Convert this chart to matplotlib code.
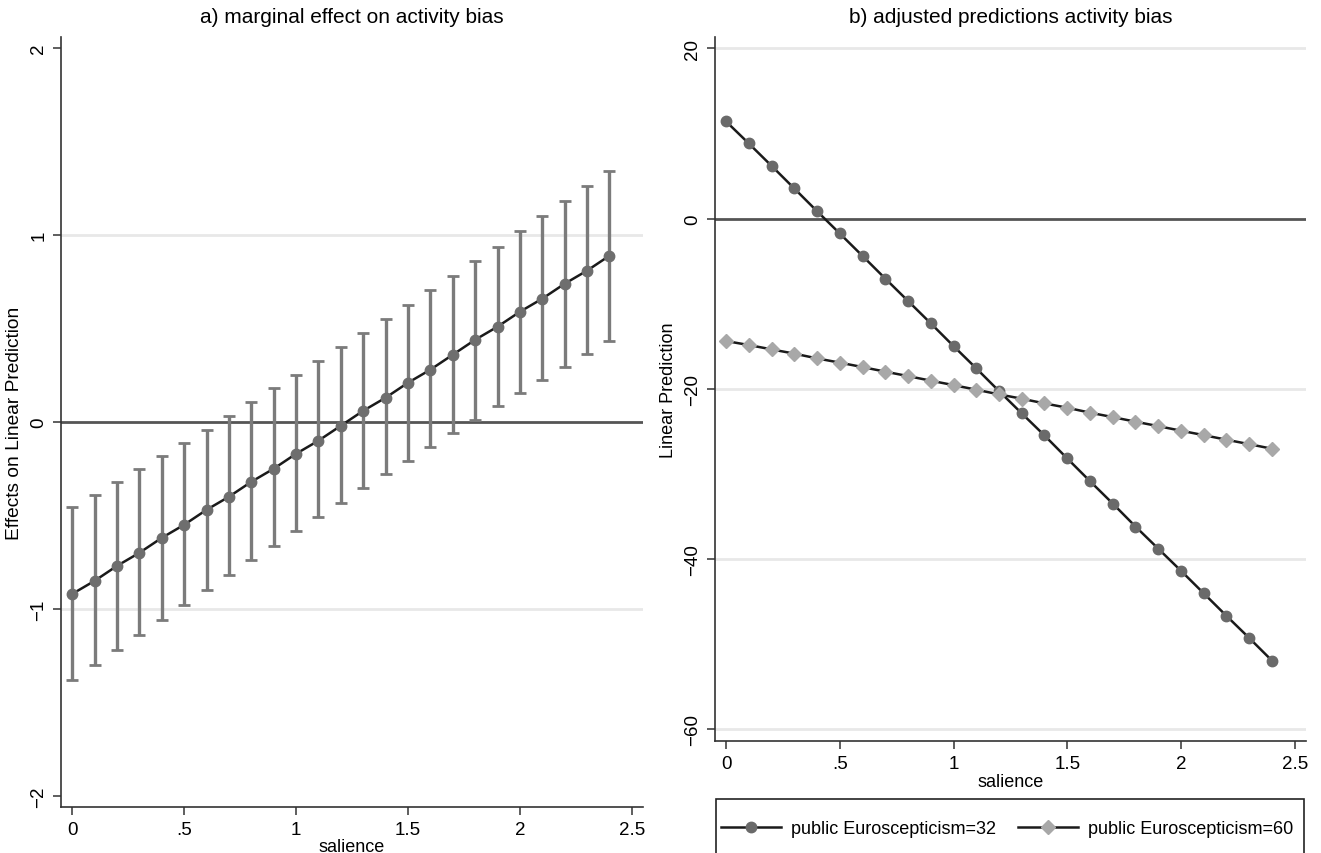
import matplotlib.pyplot as plt
from matplotlib.patches import Rectangle

plt.rcParams['font.family'] = ['Liberation Sans', 'DejaVu Sans']

# salience values (same for both panels)
salience = [0.0, 0.1, 0.2, 0.3, 0.4, 0.5, 0.6, 0.7, 0.8, 0.9, 1.0, 1.1, 1.2,
            1.3, 1.4, 1.5, 1.6, 1.7, 1.8, 1.9, 2.0, 2.1, 2.2, 2.3, 2.4]

# a) marginal effect with confidence interval
effect = [-0.92, -0.85, -0.77, -0.70, -0.62, -0.55, -0.47, -0.40, -0.32, -0.25,
          -0.17, -0.10, -0.02, 0.06, 0.13, 0.21, 0.28, 0.36, 0.44, 0.51,
          0.59, 0.66, 0.74, 0.81, 0.89]
ci_low = [-1.383, -1.303, -1.218, -1.139, -1.057, -0.977, -0.898, -0.818, -0.740,
          -0.661, -0.585, -0.508, -0.431, -0.355, -0.280, -0.209, -0.134, -0.061,
          0.010, 0.084, 0.155, 0.226, 0.296, 0.365, 0.435]
ci_high = [-0.456, -0.390, -0.319, -0.251, -0.180, -0.112, -0.041, 0.034, 0.105,
           0.180, 0.253, 0.328, 0.399, 0.476, 0.551, 0.627, 0.706, 0.782, 0.859,
           0.939, 1.020, 1.100, 1.182, 1.262, 1.342]

# b) adjusted predictions
pred_32 = [11.41, 8.82, 6.19, 3.53, 0.86, -1.76, -4.40, -7.06, -9.69, -12.32,
           -14.99, -17.61, -20.28, -22.90, -25.50, -28.20, -30.87, -33.50, -36.20,
           -38.80, -41.40, -44.05, -46.70, -49.30, -51.96]
pred_60 = [-14.40, -14.87, -15.38, -15.88, -16.44, -16.94, -17.46, -18.00, -18.52,
           -19.06, -19.58, -20.12, -20.67, -21.18, -21.73, -22.24, -22.82, -23.34,
           -23.88, -24.40, -24.94, -25.46, -26.00, -26.52, -27.06]

x_ticks = [0, 0.5, 1, 1.5, 2, 2.5]
x_ticklabels = ['0', '.5', '1', '1.5', '2', '2.5']
y1_ticks = [-2, -1, 0, 1, 2]
y1_ticklabels = ['\u22122', '\u22121', '0', '1', '2']
y2_ticks = [-60, -40, -20, 0, 20]
y2_ticklabels = ['\u221260', '\u221240', '\u221220', '0', '20']

grid_col = '#e8e8e8'
zero_col = '#555555'
axis_col = '#333333'

fig = plt.figure(figsize=(13.21, 8.54), dpi=100)
ax1 = fig.add_axes([0.0462, 0.0539, 0.4406, 0.9016])
ax2 = fig.add_axes([0.541, 0.1315, 0.4477, 0.824])


def style_axis(ax, yticks, ylabels, grid_vals):
    for s in ['top', 'right']:
        ax.spines[s].set_visible(False)
    for s in ['left', 'bottom']:
        ax.spines[s].set_color(axis_col)
        ax.spines[s].set_linewidth(1.2)
    ax.set_xlim(-0.05, 2.55)
    ax.set_xticks(x_ticks)
    ax.set_xticklabels(x_ticklabels)
    ax.set_yticks(yticks)
    ax.set_yticklabels(ylabels, rotation=90, va='center')
    ax.tick_params(axis='both', direction='out', length=6, width=1.1,
                   color=axis_col, labelsize=13.5, pad=4)
    for g in grid_vals:
        ax.axhline(g, color=grid_col, lw=2, zorder=0)
    ax.axhline(0, color=zero_col, lw=2, zorder=1)


# panel a
style_axis(ax1, y1_ticks, y1_ticklabels, [-1, 1])
ax1.set_ylim(-2.06, 2.06)
err_low = [e - lo for e, lo in zip(effect, ci_low)]
err_high = [hi - e for e, hi in zip(effect, ci_high)]
ax1.errorbar(salience, effect, yerr=[err_low, err_high], fmt='none',
             ecolor='#7b7b7b', elinewidth=2.4, capsize=4, capthick=2, zorder=2)
ax1.plot(salience, effect, color='#1a1a1a', lw=1.8, zorder=3)
ax1.plot(salience, effect, 'o', color='#6e6e6e', markersize=7.5, zorder=4)
ax1.set_title('a) marginal effect on activity bias', fontsize=15, pad=11)
ax1.set_xlabel('salience', fontsize=13, labelpad=0)
ax1.set_ylabel('Effects on Linear Prediction', fontsize=13.8, labelpad=5)

# panel b
style_axis(ax2, y2_ticks, y2_ticklabels, [-60, -40, -20, 20])
ax2.set_ylim(-61.37, 21.33)
l1, = ax2.plot(salience, pred_32, '-o', color='#1a1a1a', lw=1.8,
               markerfacecolor='#6a6a6a', markeredgecolor='#6a6a6a',
               markersize=7.5, zorder=3, label='public Euroscepticism=32')
l2, = ax2.plot(salience, pred_60, '-D', color='#1a1a1a', lw=1.8,
               markerfacecolor='#a8a8a8', markeredgecolor='#a8a8a8',
               markersize=7, zorder=3, label='public Euroscepticism=60')
ax2.set_title('b) adjusted predictions activity bias', fontsize=15, pad=11)
ax2.set_xlabel('salience', fontsize=13, labelpad=1)
ax2.set_ylabel('Linear Prediction', fontsize=13, labelpad=5)

# legend box below panel b (runs off the bottom of the figure)
fig.patches.append(Rectangle((716 / 1321, -0.02), 588 / 1321, 54 / 854 + 0.02,
                             transform=fig.transFigure, fill=False,
                             edgecolor='#222222', lw=1.2))
leg = fig.legend(handles=[l1, l2], loc='center left', ncol=2,
                 bbox_to_anchor=(721 / 1321, 1 - 830 / 854),
                 fontsize=13, frameon=False, borderpad=0, borderaxespad=0,
                 handlelength=3.3, numpoints=1, handletextpad=0.6,
                 columnspacing=1.2)

fig.savefig('out.png', dpi=100)
